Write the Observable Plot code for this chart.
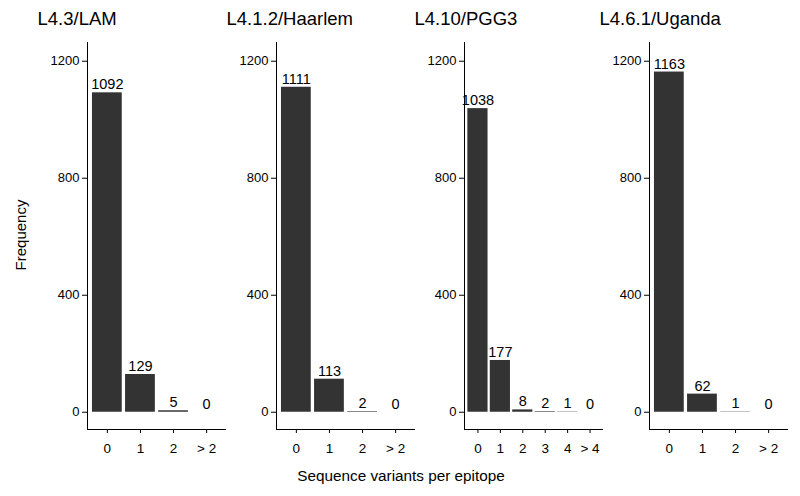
<!DOCTYPE html>
<html>
<head>
<meta charset="utf-8">
<script src="https://cdn.jsdelivr.net/npm/d3@7"></script>
<script src="https://cdn.jsdelivr.net/npm/@observablehq/plot@0.6"></script>
<style>
  html, body { margin: 0; padding: 0; background: #fff; }
  #root { position: relative; width: 800px; height: 496px; background: #fff; font-family: "Liberation Sans", Arial, Helvetica, sans-serif; color: #000; overflow: hidden; }
  #root svg { position: absolute; top: 0; background: transparent; overflow: visible; }
  .lbl { position: absolute; line-height: 1; white-space: nowrap; }
</style>
</head>
<body>
<div id="root"></div>
<script>
// ---- data ----
const panelTitles = ["L4.3/LAM", "L4.1.2/Haarlem", "L4.10/PGG3", "L4.6.1/Uganda"];
const catsLAM = ["0", "1", "2", "> 2"];
const valsLAM = [1092, 129, 5, 0];
const catsHaarlem = ["0", "1", "2", "> 2"];
const valsHaarlem = [1111, 113, 2, 0];
const catsPGG3 = ["0", "1", "2", "3", "4", "> 4"];
const valsPGG3 = [1038, 177, 8, 2, 1, 0];
const catsUganda = ["0", "1", "2", "> 2"];
const valsUganda = [1163, 62, 1, 0];
const yTicks = [0, 400, 800, 1200];
const xAxisTitle = "Sequence variants per epitope";
const yAxisTitle = "Frequency";

// ---- layout ----
const panels = [
  {title: panelTitles[0], cats: catsLAM, vals: valsLAM, axisX: 86.7},
  {title: panelTitles[1], cats: catsHaarlem, vals: valsHaarlem, axisX: 276},
  {title: panelTitles[2], cats: catsPGG3, vals: valsPGG3, axisX: 464.3},
  {title: panelTitles[3], cats: catsUganda, vals: valsUganda, axisX: 649.3}
];
const root = document.getElementById("root");
const mL = 50, innerW = 139, mR = 5, mT = 42, mB = 31, H = 460;
const yDomain = [-59, 1264];
const font = "Liberation Sans, Arial, Helvetica, sans-serif";

for (const p of panels) {
  const n = p.cats.length;
  const data = p.vals.map((v, i) => ({i, cat: p.cats[i], value: v}));
  const xDomain = [-0.6, n - 0.4];
  const chart = Plot.plot({
    width: mL + innerW + mR,
    height: H,
    marginLeft: mL, marginRight: mR, marginTop: mT, marginBottom: mB,
    style: {fontFamily: font, fontSize: "13px", color: "#000", background: "transparent", overflow: "visible"},
    x: {domain: xDomain},
    y: {domain: yDomain},
    marks: [
      Plot.rectY(data, {x1: d => d.i - 0.45, x2: d => d.i + 0.45, y1: 0, y2: "value", fill: "#333333"}),
      Plot.text(data, {x: "i", y: "value", text: d => String(d.value), lineAnchor: "bottom", dy: -3.5, fontSize: 14.5, fill: "#000"}),
      Plot.axisX({ticks: d3.range(n), tickFormat: i => p.cats[i], tickSize: 4, tickPadding: 10, fontSize: 13.5, label: null, stroke: "#000", fill: "#000"}),
      Plot.axisY({ticks: yTicks, tickFormat: d3.format("d"), tickSize: 5, tickPadding: 3, fontSize: 13, label: null, stroke: "#000", fill: "#000"}),
      Plot.ruleX([xDomain[0]], {stroke: "#000", strokeWidth: 1}),
      Plot.ruleY([yDomain[0]], {stroke: "#000", strokeWidth: 1}),
      Plot.text([p.title], {frameAnchor: "top-left", textAnchor: "start", lineAnchor: "bottom", dx: -50, dy: -18, fontSize: 18.5, fill: "#000"})
    ]
  });
  chart.style.left = (p.axisX - mL) + "px";
  root.appendChild(chart);
}

// axis titles
const xt = document.createElement("div");
xt.className = "lbl";
xt.textContent = xAxisTitle;
xt.style.fontSize = "15.3px";
xt.style.left = "401px";
xt.style.top = "468px";
xt.style.transform = "translateX(-50%)";
root.appendChild(xt);

const yt = document.createElement("div");
yt.className = "lbl";
yt.textContent = yAxisTitle;
yt.style.fontSize = "15px";
yt.style.left = "20px";
yt.style.top = "235px";
yt.style.transform = "translate(-50%, -50%) rotate(-90deg)";
root.appendChild(yt);
</script>
</body>
</html>
